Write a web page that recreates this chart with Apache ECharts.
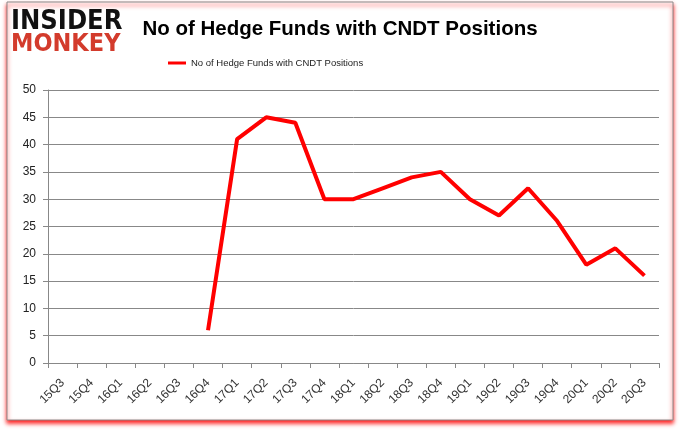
<!DOCTYPE html>
<html><head><meta charset="utf-8">
<script src="https://cdn.jsdelivr.net/npm/echarts@6/dist/echarts.min.js"></script>
<style>html,body{margin:0;padding:0;background:#fff}#c{width:680px;height:433px}</style>
</head><body><div id="c"></div>
<script>
var categories = ['15Q3','15Q4','16Q1','16Q2','16Q3','16Q4','17Q1','17Q2','17Q3','17Q4','18Q1','18Q2','18Q3','18Q4','19Q1','19Q2','19Q3','19Q4','20Q1','20Q2','20Q3'];
var funds = [null,null,null,null,null,6,41,45,44,30,30,32,34,35,30,27,32,26,18,21,16];
var seriesName = 'No of Hedge Funds with CNDT Positions';
var chart = echarts.init(document.getElementById('c'));
chart.setOption({
  animation:false,
  backgroundColor:'#fff',
  graphic:[
    {type:'rect',shape:{x:7,y:2,width:666,height:418},style:{fill:'#fff',stroke:'#8a8a8a',lineWidth:1,shadowColor:'rgba(255,0,0,0.9)',shadowBlur:4,shadowOffsetX:0,shadowOffsetY:3},z:-10},
    {type:'text',left:11,top:8,style:{text:'INSIDER',font:'bold 27px "DejaVu Sans Condensed", "DejaVu Sans"',fill:'#111'}},
    {type:'text',left:11,top:32,style:{text:'MONKEY',font:'bold 25px "DejaVu Sans Condensed", "DejaVu Sans"',fill:'#d33b2c'}}
  ],
  title:{text:'No of Hedge Funds with CNDT Positions',left:335,textAlign:'center',top:14,textStyle:{fontFamily:'Liberation Sans',fontWeight:'bold',fontSize:20.5,color:'#000'}},
  legend:{left:168,top:58,padding:0,itemWidth:18,itemHeight:3,icon:'rect',itemGap:6,textStyle:{fontFamily:'Liberation Sans',fontSize:9.5,color:'#222'},data:[seriesName]},
  grid:{left:48,right:21,top:90,bottom:70},
  xAxis:{type:'category',data:categories,boundaryGap:true,
    axisLine:{lineStyle:{color:'#888'}},
    axisTick:{show:true,alignWithLabel:false,length:5,lineStyle:{color:'#888'}},
    axisLabel:{rotate:45,interval:0,fontFamily:'Liberation Sans',fontSize:12,color:'#333',margin:18}},
  yAxis:{type:'value',min:0,max:50,interval:5,
    axisLine:{show:true,lineStyle:{color:'#888'}},
    axisTick:{show:true,length:5,lineStyle:{color:'#888'}},
    splitLine:{lineStyle:{color:'#888'}},
    axisLabel:{fontFamily:'Liberation Sans',fontSize:12,color:'#222',margin:12}},
  series:[{name:seriesName,type:'line',data:funds,showSymbol:false,symbol:'none',connectNulls:false,lineStyle:{color:'#ff0000',width:4},itemStyle:{color:'#ff0000'}}]
});
</script></body></html>
